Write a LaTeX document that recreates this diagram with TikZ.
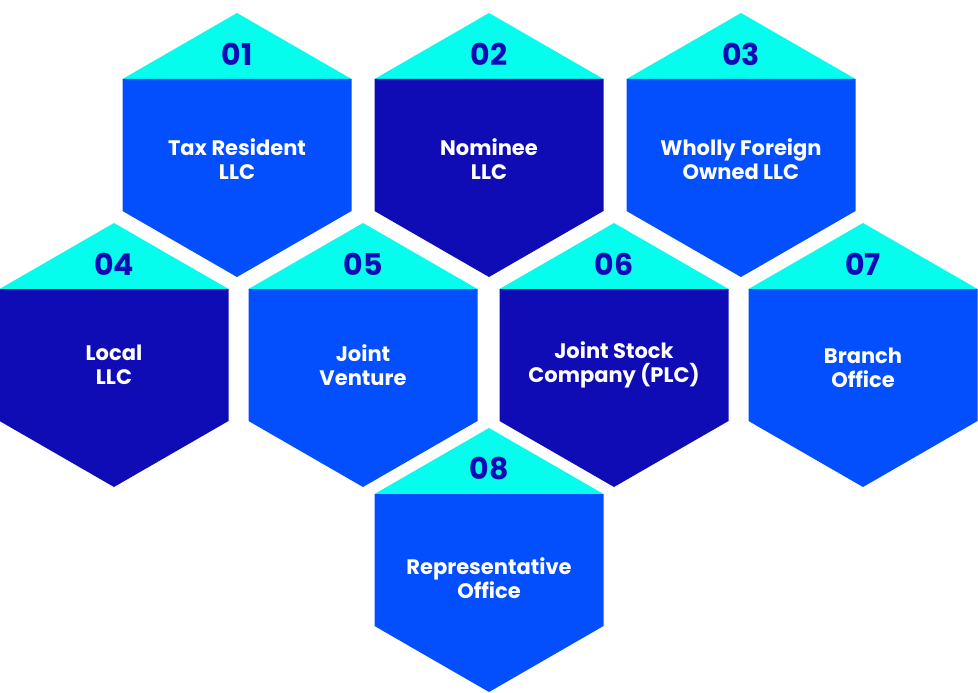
\documentclass[tikz,border=0pt]{standalone}
\usepackage{fontspec}
\setmainfont{Poppins}
\usepackage{tikz}
\definecolor{hexcyan}{HTML}{05FDEE}
\definecolor{hexblue}{HTML}{034FFE}
\definecolor{hexdark}{HTML}{0F0CB5}
\tikzset{
  hexnum/.style={text=hexdark, font=\bfseries\fontsize{30}{30}\selectfont},
  hexlabel/.style={text=white, align=center, font=\bfseries\fontsize{21}{24}\selectfont}
}

\begin{document}
\begin{tikzpicture}[x=1pt,y=-1pt]
   \useasboundingbox (0,0) rectangle (978,693);
   \foreach \n/\cx/\cy/\dy/\col/\txt in {
      01/237/145/14/hexblue/{Tax Resident\\LLC},
      02/489/145/14/hexdark/{Nominee\\LLC},
      03/741/145/14/hexblue/{Wholly Foreign\\Owned LLC},
      04/114/355/10/hexdark/{Local\\LLC},
      05/363/355/10/hexblue/{Joint\\Venture},
      06/614/355/10/hexdark/{Joint Stock\\Company (PLC)},
      07/863/355/13/hexblue/{Branch\\Office},
      08/489/560/18/hexblue/{Representative\\Office}} {
      \fill[hexcyan] (\cx,\cy-132) -- (\cx+114.5,\cy-66) -- (\cx-114.5,\cy-66) -- cycle;
      \fill[\col] (\cx-114.5,\cy-66) -- (\cx+114.5,\cy-66) -- (\cx+114.5,\cy+66)
         -- (\cx,\cy+132) -- (\cx-114.5,\cy+66) -- cycle;
      \node[hexnum] (num\n) at (\cx,\cy-91) {\n};
      \node[hexlabel] (name\n) at (\cx,\cy+\dy) {\txt};
   }
\end{tikzpicture}
\end{document}
